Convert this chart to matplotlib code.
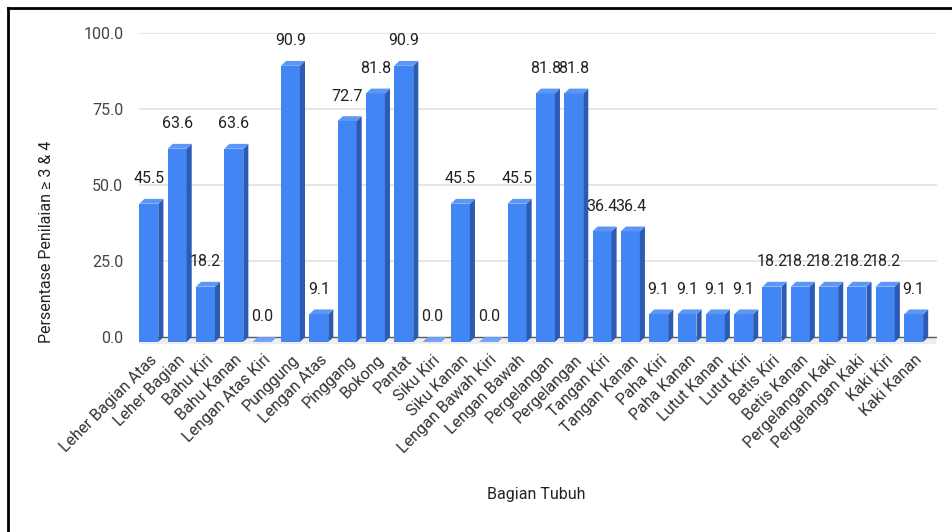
import numpy as np
import matplotlib
matplotlib.use("Agg")
import matplotlib.pyplot as plt
import matplotlib.transforms as mtransforms
from matplotlib.lines import Line2D

plt.rcParams['font.family'] = ['Roboto', 'DejaVu Sans']

kategori = ["Leher Bagian Atas", "Leher Bagian", "Bahu Kiri", "Bahu Kanan",
            "Lengan Atas Kiri", "Punggung", "Lengan Atas", "Pinggang", "Bokong",
            "Pantat", "Siku Kiri", "Siku Kanan", "Lengan Bawah Kiri", "Lengan Bawah",
            "Pergelangan", "Pergelangan", "Tangan Kiri", "Tangan Kanan", "Paha Kiri",
            "Paha Kanan", "Lutut Kanan", "Lutut Kiri", "Betis Kiri", "Betis Kanan",
            "Pergelangan Kaki", "Pergelangan Kaki", "Kaki Kiri", "Kaki Kanan"]
persen = [45.5, 63.6, 18.2, 63.6, 0.0, 90.9, 9.1, 72.7, 81.8, 90.9, 0.0, 45.5,
          0.0, 45.5, 81.8, 81.8, 36.4, 36.4, 9.1, 9.1, 9.1, 9.1, 18.2, 18.2,
          18.2, 18.2, 18.2, 9.1]
yticks = [0, 25, 50, 75, 100]

depan = '#4285f4'
samping = '#2b5bb3'
atas = '#5c97f6'

fig = plt.figure(figsize=(9.53, 5.32), dpi=100)
ax = fig.add_axes([139.3/953, 1-345/532, (936.7-139.3)/953, (345-33.3)/532])

x = np.arange(len(kategori))
w = 0.67
dx = 0.18
dy = 1.6

ax.set_xlim(-w/2, -w/2 + 28.15)
ax.set_ylim(-2.6, 100)

# grid (back wall)
for t in yticks[1:]:
    ax.axhline(t, color='#dedede', lw=1.1, zorder=0)
# floor
ax.fill_between([-w/2, 27.8], [-dy-0.6, -dy-0.6], [0, 0], color='#eeeeee', zorder=0, lw=0)
ax.axhline(0, color='#5a5a5a', lw=1.0, zorder=1)

for i, v in enumerate(persen):
    xl = x[i] - w/2
    xr = x[i] + w/2
    if v > 0:
        ax.bar(x[i], v, width=w, bottom=-dy, color=depan, zorder=3, linewidth=0)
        ax.fill([xr, xr + dx, xr + dx, xr], [-dy, 0, v, v - dy], color=samping, zorder=3, lw=0)
        ax.fill([xl, xr, xr + dx, xl + dx], [v - dy, v - dy, v, v], color=atas, zorder=3, lw=0)
    else:
        ax.fill([xl, xr, xr + dx, xl + dx], [-dy, -dy, 0, 0], color='#6fa3f7', zorder=3, lw=0)
    ax.annotate(f"{v:.1f}", (x[i], v - dy), xytext=(0, 18), textcoords='offset points',
                ha='center', va='center', fontsize=11.5, color='#222222')

ax.set_yticks(yticks)
ax.set_yticklabels([f"{t:.1f}" for t in yticks], fontsize=11.5, color='#444444')
ax.set_xticks(x)
ax.set_xticklabels(kategori, fontsize=11.5, color='#333333')
ax.tick_params(axis='both', length=0)
ax.tick_params(axis='y', pad=11.5)
ax.tick_params(axis='x', pad=9)
off = mtransforms.ScaledTranslation(6/100, 0, fig.dpi_scale_trans)
for lab in ax.get_xticklabels():
    lab.set_rotation(45)
    lab.set_ha('right')
    lab.set_va('center')
    lab.set_rotation_mode('anchor')
    lab.set_transform(lab.get_transform() + off)

for s in ax.spines.values():
    s.set_visible(False)

fig.text(47/953, 1-242/532, "Persentase Penilaian \u2265 3 & 4", rotation=90,
         ha='center', va='center', fontsize=11.5, color='#222222')
fig.text(536/953, 1-495/532, "Bagian Tubuh", ha='center', va='center',
         fontsize=11.5, color='#222222')

# frame of screenshot
fig.add_artist(Line2D([8.5/953, 8.5/953], [0, 1-7.5/532], transform=fig.transFigure, color='black', lw=2))
fig.add_artist(Line2D([8.5/953, 1], [1-7.5/532, 1-7.5/532], transform=fig.transFigure, color='black', lw=2))

fig.savefig("out.png", dpi=100)
